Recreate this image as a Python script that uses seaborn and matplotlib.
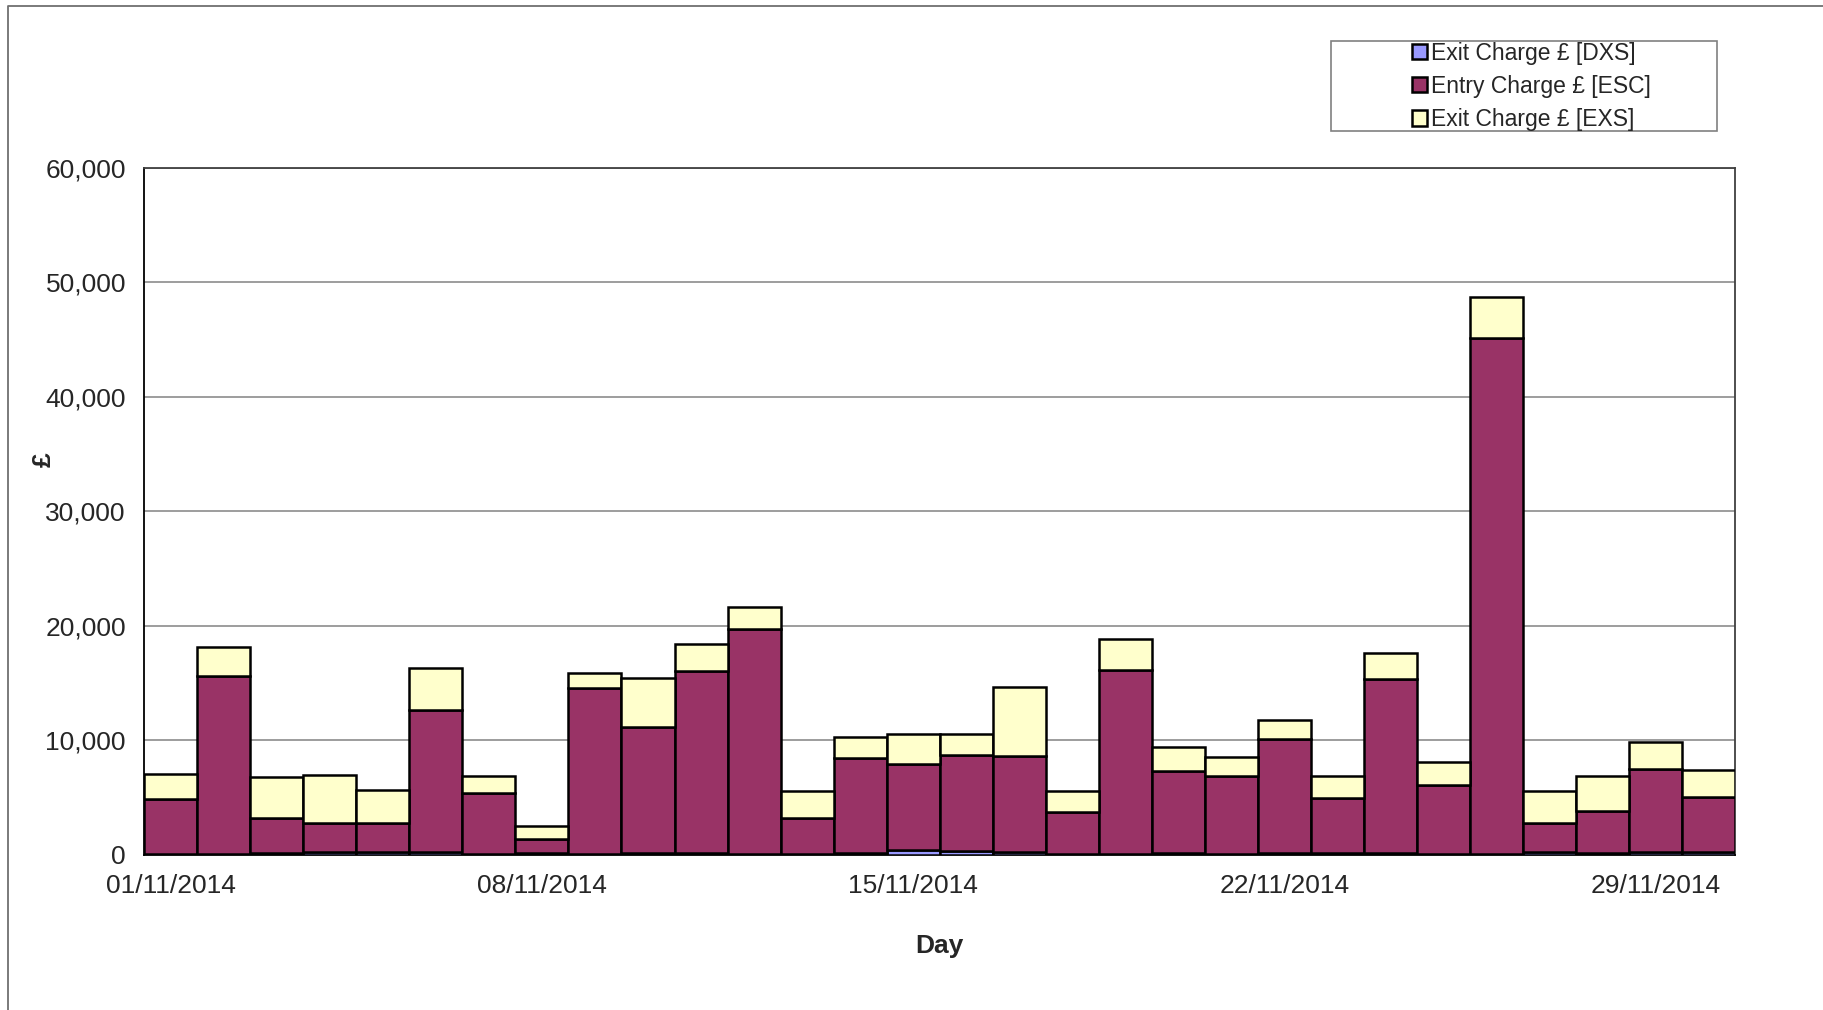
import matplotlib
matplotlib.use('Agg')
import matplotlib.pyplot as plt
from matplotlib.patches import Rectangle
from matplotlib.lines import Line2D
from matplotlib.ticker import FuncFormatter
import seaborn as sns
import pandas as pd
import numpy as np

days = ['%02d/11/2014' % d for d in range(1, 31)]
dxs = [100, 100, 200, 300, 300, 300, 100, 200, 100, 200,
       150, 100, 100, 200, 400, 350, 250, 100, 100, 200,
       100, 150, 150, 200, 100, 100, 250, 200, 250, 250]
esc_top = [4900, 15650, 3250, 2750, 2750, 12700, 5400, 1420, 14550, 11200,
           16070, 19730, 3250, 8440, 7930, 8750, 8650, 3760, 16170, 7320,
           6920, 10170, 4980, 15360, 6100, 45150, 2750, 3860, 7530, 5090]
totals = [7100, 18200, 6800, 7000, 5700, 16300, 6900, 2550, 15870, 15460,
          18400, 21660, 5600, 10270, 10580, 10580, 14650, 5600, 18900, 9460,
          8540, 11800, 6920, 17600, 8140, 48700, 5600, 6920, 9860, 7420]
esc = [t - d for t, d in zip(esc_top, dxs)]
exs = [t - e for t, e in zip(totals, esc_top)]

df = pd.DataFrame({'Day': days, 'DXS': dxs, 'ESC': esc, 'EXS': exs})

sns.set_style('white')
plt.rcParams['font.family'] = ['Liberation Sans', 'DejaVu Sans']

fig = plt.figure(figsize=(18.23, 10.10), dpi=100)
ax = fig.add_axes([0.079, 0.1535, 0.873, 0.6802])

cols = {'DXS': '#9999FF', 'ESC': '#993366', 'EXS': '#FFFFCC'}
labels = {'DXS': 'Exit Charge £ [DXS]', 'ESC': 'Entry Charge £ [ESC]', 'EXS': 'Exit Charge £ [EXS]'}
bottom = np.zeros(len(df))
for s in ['DXS', 'ESC', 'EXS']:
    sns.barplot(data=df, x='Day', y=s, order=days, color=cols[s], saturation=1,
                width=1, errorbar=None, edgecolor='black', linewidth=1.8,
                bottom=bottom, label=labels[s], ax=ax, zorder=3)
    bottom = bottom + df[s].values
if ax.get_legend() is not None:
    ax.get_legend().remove()

ax.set_xlim(-0.5, 29.5)
ax.set_ylim(0, 60000)
ax.set_yticks(range(0, 60001, 10000))
ax.yaxis.set_major_formatter(FuncFormatter(lambda v, p: '{:,.0f}'.format(v)))
ax.yaxis.grid(True, color='#8c8c8c', linewidth=1.2, zorder=0)
ax.set_axisbelow(True)

ax.set_xticks([-0.5, 6.5, 13.5, 20.5, 27.5])
ax.set_xticklabels([])
ax.set_xticks([0, 7, 14, 21, 28], minor=True)
ax.set_xticklabels([days[i] for i in [0, 7, 14, 21, 28]], minor=True)
ax.tick_params(axis='x', which='major', length=7, width=1, color='#808080', direction='out')
ax.tick_params(axis='x', which='minor', length=0, pad=14, labelsize=19)
ax.tick_params(axis='y', length=7, width=1, color='#808080', direction='out', pad=6, labelsize=19)

for side in ['left', 'bottom']:
    ax.spines[side].set_color('black')
    ax.spines[side].set_linewidth(1.3)
for side in ['top', 'right']:
    ax.spines[side].set_color('#404040')
    ax.spines[side].set_linewidth(1.3)

ax.set_xlabel('Day', fontsize=19, fontweight='bold')
ax.xaxis.set_label_coords(0.5, -0.115)
ax.set_ylabel('£', fontsize=19, fontweight='bold')
ax.yaxis.set_label_coords(-0.0555, 0.576)

# legend box
fig.patches.append(Rectangle((0.730, 0.870), 0.212, 0.089, transform=fig.transFigure,
                             facecolor='white', edgecolor='#808080', linewidth=1.2))
handles, labs = ax.get_legend_handles_labels()
leg = fig.legend(handles, labs, loc='center', bbox_to_anchor=(0.840, 0.9145),
                 frameon=False, fontsize=16.5, handlelength=0.65, handleheight=0.65,
                 handletextpad=0.2, labelspacing=0.45, borderpad=0)

# outer chart border
fig.lines.append(Line2D([0.0045, 0.0045, 1.0], [0.0, 0.994, 0.994], transform=fig.transFigure,
                        color='#707070', linewidth=1.3))

fig.savefig('out.png', dpi=100)
